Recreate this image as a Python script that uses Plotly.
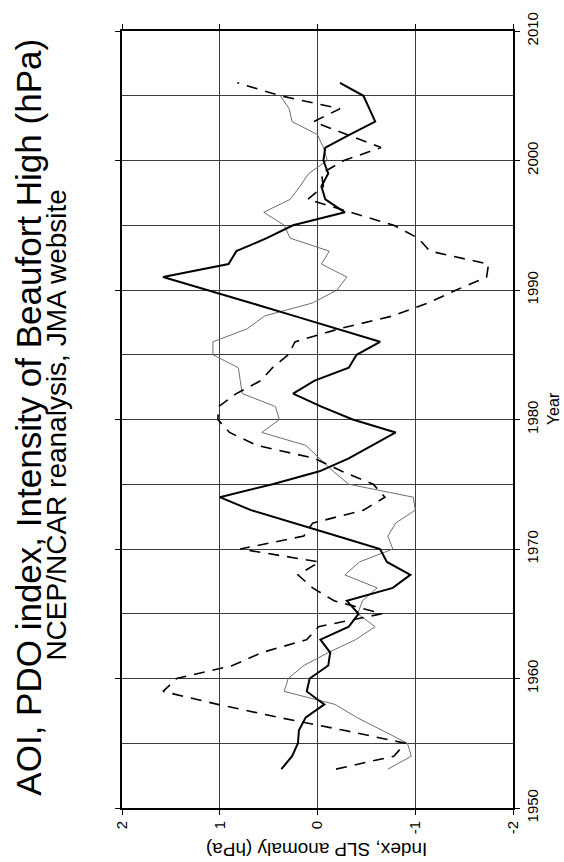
import plotly.graph_objects as go

# ---------------- data ----------------
years_aoi = list(range(1953, 2007))
aoi = [0.37, 0.26, 0.20, 0.19, 0.12, -0.07, 0.11, 0.08, -0.11, -0.13,
       -0.03, -0.32, -0.42, -0.30, -0.77, -0.95, -0.71, -0.64, -0.20, 0.24,
       0.68, 1.00, 0.46, -0.02, -0.32, -0.56, -0.80, -0.36, -0.04, 0.25,
       0.03, -0.32, -0.40, -0.64, -0.21, 0.24, 0.68, 1.12, 1.58, 0.91,
       0.83, 0.52, 0.25, -0.28, -0.08, -0.04, -0.11, -0.06, -0.08, -0.33,
       -0.59, -0.53, -0.47, -0.23]

years_pdo = list(range(1953, 2006))
pdo = [-0.72, -0.96, -0.92, -0.66, -0.40, -0.18, 0.34, 0.30, 0.14, -0.11,
       -0.39, -0.59, -0.41, -0.46, -0.61, -0.28, -0.43, -0.77, -0.72, -0.80,
       -1.00, -0.98, -0.32, -0.16, -0.02, 0.12, 0.57, 0.39, 0.43, 0.77,
       0.79, 0.81, 1.07, 1.07, 0.72, 0.54, 0.05, -0.20, -0.30, -0.04,
       -0.12, 0.28, 0.34, 0.55, 0.28, 0.18, 0.09, -0.10, -0.06, 0.00,
       0.26, 0.29, 0.38]

years_bh = list(range(1953, 2007))
bh = [-0.19, -0.78, -0.90, -0.27, 0.40, 1.02, 1.58, 1.44, 0.87, 0.57,
      0.11, -0.01, -0.66, -0.17, 0.05, 0.20, -0.02, 0.79, 0.14, 0.05,
      -0.47, -0.69, -0.57, -0.25, 0.03, 0.62, 0.90, 1.02, 1.01, 0.83,
      0.58, 0.46, 0.30, 0.23, -0.22, -0.77, -1.13, -1.42, -1.73, -1.75,
      -1.15, -1.03, -0.78, -0.34, 0.10, -0.06, -0.04, -0.27, -0.65, -0.30,
      0.04, -0.23, 0.38, 0.82]

index_ticks = [2, 1, 0, -1, -2]
index_tick_labels = ["2", "1", "0", "-1", "-2"]
year_ticks = [1950, 1960, 1970, 1980, 1990, 2000, 2010]
year_tick_labels = ["1950", "1960", "1970", "1980", "1990", "2000", "2010"]

title_text = "AOI, PDO index, Intensity of Beaufort High (hPa)"
subtitle_text = "NCEP/NCAR reanalysis, JMA website"
x_title = "Index, SLP anomaly (hPa)"
y_title = "Year"

# ---------------- layout geometry ----------------
W, H = 564, 862
L, R, T, B = 122, 564 - 512.7, 27.3, 862 - 808.3
PW, PH = W - L - R, H - T - B

def paper(px, py):
    return (px - L) / PW, (H - B - py) / PH

FONT = "Liberation Sans, Arial, Helvetica, sans-serif"

fig = go.Figure()
fig.add_trace(go.Scatter(x=pdo, y=years_pdo, mode="lines",
                         line=dict(color="#6e6e6e", width=1), name="PDO"))
fig.add_trace(go.Scatter(x=bh, y=years_bh, mode="lines",
                         line=dict(color="black", width=1.6, dash="11px,8px"),
                         name="Beaufort High"))
fig.add_trace(go.Scatter(x=aoi, y=years_aoi, mode="lines",
                         line=dict(color="black", width=2), name="AOI"))

grid_col = "#3c3c3c"
fig.update_xaxes(range=[2, -2], tickvals=index_ticks, ticktext=index_tick_labels,
                 ticks="outside", ticklen=5, tickwidth=1, tickcolor="black",
                 tickangle=-90, tickfont=dict(family=FONT, size=15, color="black"),
                 showgrid=True, gridcolor=grid_col, gridwidth=1,
                 showline=True, linecolor="black", linewidth=2, mirror="ticks",
                 zeroline=False, side="bottom")
fig.update_yaxes(range=[1950, 2010], tickvals=year_ticks, ticktext=year_tick_labels,
                 ticks="outside", ticklen=5, tickwidth=1, tickcolor="black",
                 tickangle=-90, tickfont=dict(family=FONT, size=15, color="black"),
                 showgrid=True, gridcolor=grid_col, gridwidth=1,
                 minor=dict(dtick=5, tick0=1950, showgrid=True, gridcolor=grid_col,
                            gridwidth=1, ticks=""),
                 showline=True, linecolor="black", linewidth=2, mirror="ticks",
                 zeroline=False, side="right")

ann = []
x, y = paper(29, 415)
ann.append(dict(text=title_text, x=x, y=y, textangle=-90,
                font=dict(family=FONT, size=35, color="black")))
x, y = paper(57, 423)
ann.append(dict(text=subtitle_text, x=x, y=y, textangle=-90,
                font=dict(family=FONT, size=28, color="black")))
x, y = paper(553, 407)
ann.append(dict(text=y_title, x=x, y=y, textangle=-90,
                font=dict(family=FONT, size=16, color="black")))
x, y = paper(317, 850)
ann.append(dict(text=x_title, x=x, y=y, textangle=180,
                font=dict(family=FONT, size=19, color="black")))
for a in ann:
    a.update(xref="paper", yref="paper", showarrow=False,
             xanchor="center", yanchor="middle")

fig.update_layout(width=W, height=H, autosize=False,
                  margin=dict(l=L, r=R, t=T, b=B, pad=0),
                  paper_bgcolor="white", plot_bgcolor="white",
                  showlegend=False, annotations=ann)

fig.write_html("out.html")
